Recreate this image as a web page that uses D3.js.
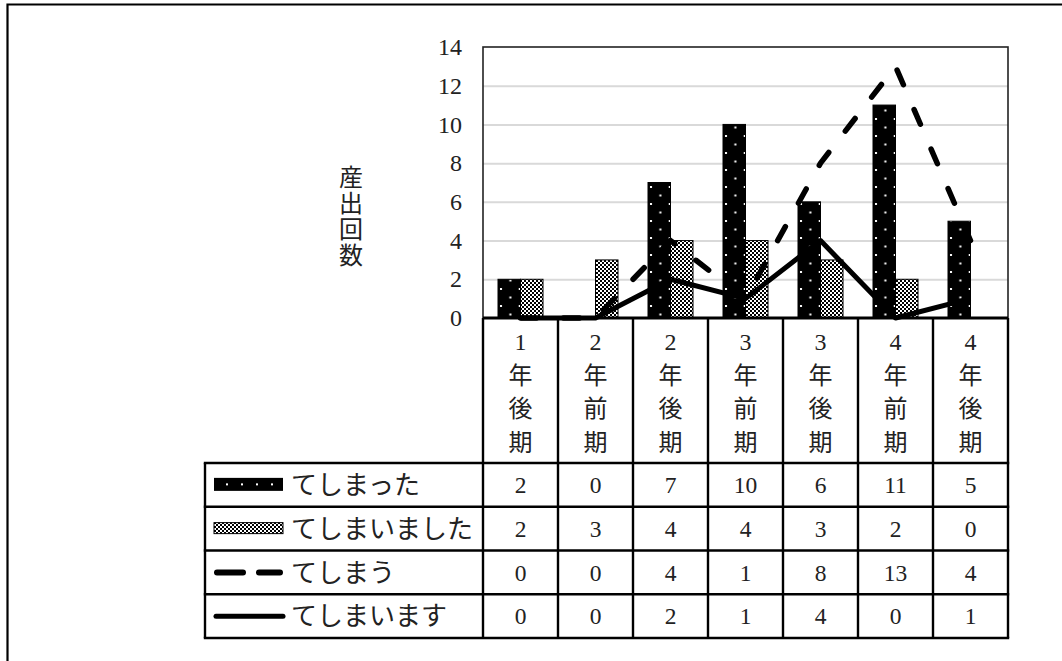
<!DOCTYPE html>
<html>
<head>
<meta charset="utf-8">
<script src="https://cdn.jsdelivr.net/npm/d3@7"></script>
<style>
  html, body { margin: 0; padding: 0; background: #fff; }
  svg { display: block; }
  text { font-family: "Liberation Serif", "Noto Sans CJK JP", serif; fill: #222; }
</style>
</head>
<body>
<svg id="chart" width="1062" height="661"></svg>
<script>
// Periods (x-axis categories)
const categories = ["1年後期", "2年前期", "2年後期", "3年前期", "3年後期", "4年前期", "4年後期"];

// Series names
const seriesNames = ["てしまった", "てしまいました", "てしまう", "てしまいます"];

// Series values (counts per period)
const shimatta      = [2, 0, 7, 10, 6, 11, 5];
const shimaimashita = [2, 3, 4, 4, 3, 2, 0];
const shimau        = [0, 0, 4, 1, 8, 13, 4];
const shimaimasu    = [0, 0, 2, 1, 4, 0, 1];

// Y axis
const yTicks = [0, 2, 4, 6, 8, 10, 12, 14];
const yTitle = "産出回数";

const allSeries = [shimatta, shimaimashita, shimau, shimaimasu];

const svg = d3.select("#chart");

// layout
const plot = { left: 483, right: 1008, top: 47, bottom: 318 };
const headerBottom = 463;
const tableBottom = 638;
const legendLeft = 205;
const rowH = (tableBottom - headerBottom) / 4;

const x = d3.scaleBand().domain(categories).range([plot.left, plot.right]).padding(0);
const bw = x.bandwidth();
const x1 = d3.scaleBand().domain([0, 1]).range([bw * 0.2, bw * 0.8]).padding(0);
const y = d3.scaleLinear().domain([0, 14]).range([plot.bottom, plot.top]);

// fill patterns
const defs = svg.append("defs");
const dotP = defs.append("pattern")
  .attr("id", "dots").attr("patternUnits", "userSpaceOnUse")
  .attr("x", plot.left + bw * 0.2).attr("y", plot.bottom)
  .attr("width", bw / 4).attr("height", 17);
dotP.append("rect").attr("width", bw / 4).attr("height", 17).attr("fill", "#000");
dotP.append("rect").attr("x", 2).attr("y", 4).attr("width", 2).attr("height", 2).attr("fill", "#fff");
dotP.append("rect").attr("x", 2 + bw / 8).attr("y", 12.5).attr("width", 2).attr("height", 2).attr("fill", "#fff");

const chkP = defs.append("pattern")
  .attr("id", "checker").attr("patternUnits", "userSpaceOnUse")
  .attr("width", 4).attr("height", 4);
chkP.append("rect").attr("width", 4).attr("height", 4).attr("fill", "#fff");
chkP.append("rect").attr("width", 2).attr("height", 2).attr("fill", "#000");
chkP.append("rect").attr("x", 2).attr("y", 2).attr("width", 2).attr("height", 2).attr("fill", "#000");

// outer frame
svg.append("path")
  .attr("d", "M7.5,661 V4.5 H1062")
  .attr("fill", "none").attr("stroke", "#000").attr("stroke-width", 2.2);

// gridlines
svg.append("g")
  .attr("transform", `translate(${plot.left},0)`)
  .call(d3.axisLeft(y).tickValues(yTicks.filter(t => t > 0 && t < 14)).tickSize(-(plot.right - plot.left)).tickFormat(""))
  .call(g => g.select(".domain").remove())
  .call(g => g.selectAll("line").attr("stroke", "#d9d9d9").attr("stroke-width", 2));

// y tick labels
svg.append("g")
  .attr("transform", `translate(${plot.left},0)`)
  .call(d3.axisLeft(y).tickValues(yTicks).tickSize(0).tickPadding(21))
  .call(g => g.select(".domain").remove())
  .call(g => g.selectAll("text")
    .style("font-family", "'Liberation Serif', serif")
    .style("font-size", "24px").attr("fill", "#222"));

// y axis title (vertical, one character per line)
const yt = svg.append("text")
  .attr("x", 351).attr("y", 186)
  .attr("text-anchor", "middle")
  .style("font-size", "24px");
yt.selectAll("tspan").data(Array.from(yTitle)).join("tspan")
  .attr("x", 351).attr("dy", (d, i) => i === 0 ? 0 : 26)
  .text(d => d);

// bars
const barFills = ["url(#dots)", "url(#checker)"];
const barGroups = svg.append("g");
[shimatta, shimaimashita].forEach((vals, k) => {
  barGroups.append("g").selectAll("rect")
    .data(vals.map((v, i) => ({ c: categories[i], v })))
    .join("rect")
    .filter(d => d.v > 0)
    .attr("x", d => x(d.c) + x1(k))
    .attr("y", d => y(d.v))
    .attr("width", x1.bandwidth())
    .attr("height", d => y(0) - y(d.v))
    .attr("fill", barFills[k])
    .attr("stroke", "#000")
    .attr("stroke-width", 1);
});

// plot frame
svg.append("rect")
  .attr("x", plot.left).attr("y", plot.top)
  .attr("width", plot.right - plot.left).attr("height", plot.bottom - plot.top)
  .attr("fill", "none").attr("stroke", "#222").attr("stroke-width", 1.6);

// lines
const line = d3.line()
  .x((d, i) => x(categories[i]) + bw / 2)
  .y(d => y(d));

svg.append("path")
  .datum(shimaimasu)
  .attr("d", line)
  .attr("fill", "none").attr("stroke", "#000")
  .attr("stroke-width", 5).attr("stroke-linejoin", "round");

svg.append("path")
  .datum(shimau)
  .attr("d", line)
  .attr("fill", "none").attr("stroke", "#000")
  .attr("stroke-width", 5.5).attr("stroke-linecap", "round")
  .attr("stroke-dasharray", "16 27");

// x axis baseline
svg.append("line")
  .attr("x1", plot.left).attr("x2", plot.right)
  .attr("y1", plot.bottom).attr("y2", plot.bottom)
  .attr("stroke", "#000").attr("stroke-width", 3);

// data table grid
const grid = svg.append("g").attr("stroke", "#000").attr("stroke-width", 2.4);
d3.range(categories.length + 1).forEach(i => {
  const xx = plot.left + i * bw;
  grid.append("line").attr("x1", xx).attr("x2", xx).attr("y1", plot.bottom).attr("y2", tableBottom);
});
grid.append("line").attr("x1", legendLeft).attr("x2", legendLeft).attr("y1", headerBottom).attr("y2", tableBottom);
d3.range(5).forEach(r => {
  const yy = headerBottom + r * rowH;
  grid.append("line").attr("x1", legendLeft - 1.2).attr("x2", plot.right + 1.2).attr("y1", yy).attr("y2", yy);
});

// category headers (stacked characters)
const hdr = svg.append("g");
categories.forEach(c => {
  const t = hdr.append("text")
    .attr("text-anchor", "middle")
    .attr("x", x(c) + bw / 2).attr("y", 350)
    .style("font-size", "24px");
  t.selectAll("tspan").data(Array.from(c)).join("tspan")
    .attr("x", x(c) + bw / 2)
    .attr("dy", (d, i) => i === 0 ? 0 : 33.5)
    .text(d => d);
});

// table values
allSeries.forEach((vals, r) => {
  svg.append("g").selectAll("text")
    .data(vals)
    .join("text")
    .attr("x", (d, i) => x(categories[i]) + bw / 2)
    .attr("y", headerBottom + r * rowH + rowH / 2)
    .attr("dy", "0.35em")
    .attr("text-anchor", "middle")
    .style("font-size", "23.5px")
    .text(d => d);
});

// legend keys and names
const lg = svg.append("g");
const keyX0 = 214, keyX1 = 283;
seriesNames.forEach((name, r) => {
  const cy = headerBottom + r * rowH + rowH / 2;
  if (r === 0) {
    lg.append("rect").attr("x", keyX0).attr("y", cy - 7).attr("width", keyX1 - keyX0).attr("height", 13)
      .attr("fill", "#000");
    d3.range(4).forEach(j => {
      lg.append("rect").attr("x", keyX0 + 12 + j * 15).attr("y", cy - 1.5).attr("width", 2).attr("height", 2).attr("fill", "#fff");
    });
  } else if (r === 1) {
    lg.append("rect").attr("x", keyX0).attr("y", cy - 6).attr("width", keyX1 - keyX0).attr("height", 11)
      .attr("fill", "url(#checker)").attr("stroke", "#000").attr("stroke-width", 1);
  } else if (r === 2) {
    lg.append("line").attr("x1", keyX0 + 3).attr("x2", keyX1 - 3).attr("y1", cy).attr("y2", cy)
      .attr("stroke", "#000").attr("stroke-width", 6).attr("stroke-linecap", "round")
      .attr("stroke-dasharray", "26 16");
  } else {
    lg.append("line").attr("x1", keyX0 + 2).attr("x2", keyX1).attr("y1", cy).attr("y2", cy)
      .attr("stroke", "#000").attr("stroke-width", 5).attr("stroke-linecap", "round");
  }
  lg.append("text")
    .attr("x", 291).attr("y", cy).attr("dy", "0.36em")
    .style("font-size", "26px")
    .text(name);
});
</script>
</body>
</html>
